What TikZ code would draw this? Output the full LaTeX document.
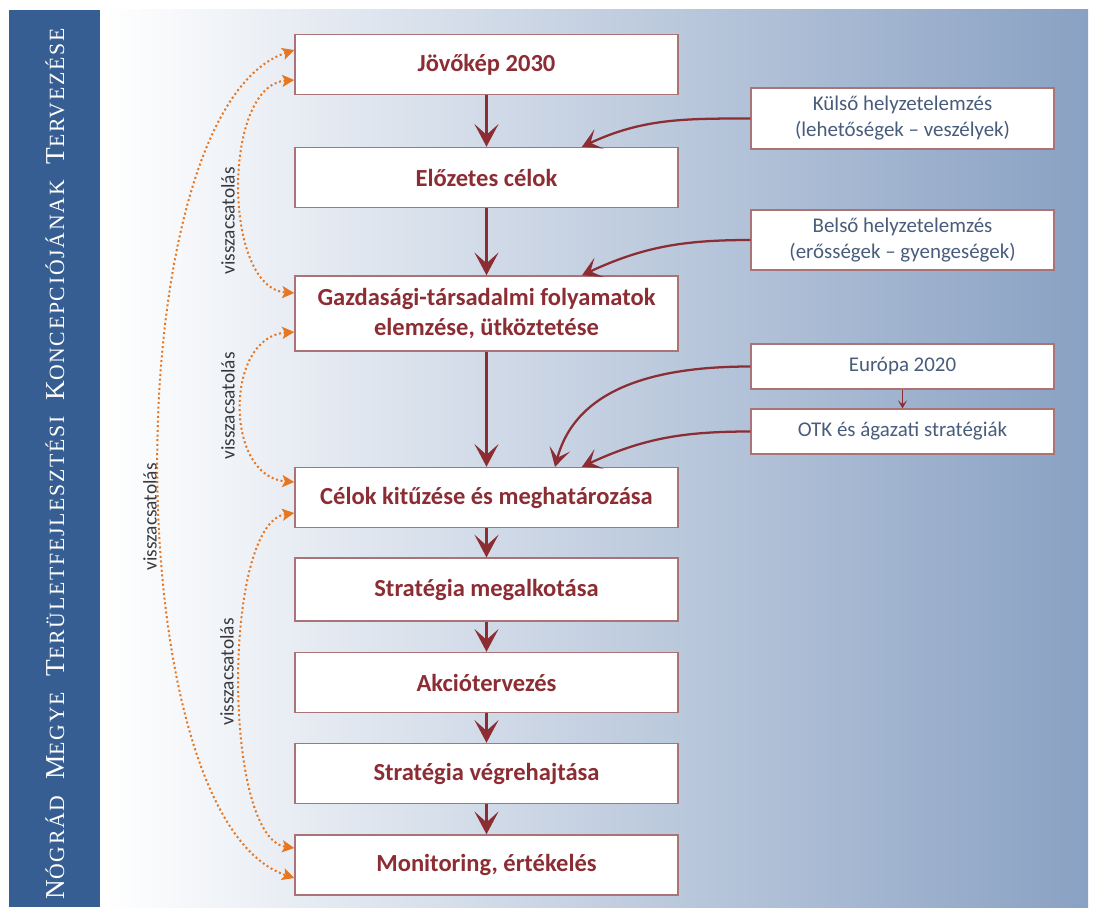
\documentclass[tikz,border=0pt]{standalone}
\usepackage{fontspec}
\setmainfont{Carlito}
\newfontfamily\bannerfont[LetterSpace=8]{Liberation Serif}
\usetikzlibrary{arrows.meta,calc}

\definecolor{bordo}{RGB}{140,45,52}
\definecolor{boxline}{RGB}{170,115,118}
\definecolor{slate}{RGB}{72,92,124}
\definecolor{fborange}{RGB}{230,118,32}
\definecolor{bannerblue}{RGB}{54,94,146}
\definecolor{panelblue}{RGB}{137,161,195}
\definecolor{labelgray}{RGB}{55,55,60}

% word in small capitals: bigger initial, smaller rest
\newcommand{\scword}[2]{{\fontsize{20.5}{21}\selectfont #1}{\fontsize{16.3}{21}\selectfont #2}}

\begin{document}
\begin{tikzpicture}[x=0.75pt,y=0.75pt,yscale=-1,xscale=1,
    mainbox/.style={draw=boxline, fill=white, line width=1.1pt, inner sep=0pt,
        minimum width=287.25pt, minimum height=45pt, align=center,
        font=\fontsize{18.4}{22.5}\selectfont\bfseries, text=bordo},
    sidebox/.style={draw=boxline, fill=white, line width=1.1pt, inner sep=0pt,
        minimum width=227.25pt, minimum height=45pt, align=center,
        font=\fontsize{15.7}{19.5}\selectfont, text=slate},
    flow/.style={draw=bordo, line width=2.4pt, -{Stealth[length=17pt,width=18pt,inset=8pt]}},
    sideflow/.style={draw=bordo, line width=1.7pt, -{Stealth[length=14pt,width=16pt,inset=7pt]}},
    feed/.style={draw=fborange, line width=1.5pt, dotted,
        {Stealth[length=9pt,width=9pt,inset=2pt]}-{Stealth[length=9pt,width=9pt,inset=2pt]}},
    fblabel/.style={rotate=90, inner sep=0pt, font=\fontsize{14.5}{14.5}\selectfont, text=labelgray}]

    % Frame and background
    \useasboundingbox (0,0) rectangle (1094,917);
    \fill[bannerblue] (9,10) rectangle (100,907);
    \shade[left color=white, right color=panelblue] (103,10) rectangle (1088,907);

    % Title
    \node [rotate=90, text=white, inner sep=0pt] (title) at (55,464)
        {\bannerfont\scword{N}{ÓGRÁD}\hspace{12pt}\scword{M}{EGYE}\hspace{12pt}\scword{T}{ERÜLETFEJLESZTÉSI}\hspace{12pt}\scword{K}{ONCEPCIÓJÁNAK}\hspace{12pt}\scword{T}{ERVEZÉSE}};

    % Main steps
    \node [mainbox] (jov)  at (486.5,64.5) {Jövőkép 2030};
    \node [mainbox] (elo)  at (486.5,177.5) {Előzetes célok};
    \node [mainbox, minimum height=56.25pt] (gaz) at (486.5,313.5) {Gazdasági-társadalmi folyamatok\\elemzése, ütköztetése};
    \node [mainbox] (cel)  at (486.5,497.5) {Célok kitűzése és meghatározása};
    \node [mainbox, minimum height=47pt] (smeg) at (486.5,589.5) {Stratégia megalkotása};
    \node [mainbox] (akc)  at (486.5,682.5) {Akciótervezés};
    \node [mainbox] (sveg) at (486.5,773.5) {Stratégia végrehajtása};
    \node [mainbox] (mon)  at (486.5,865) {Monitoring, értékelés};

    % Inputs
    \node [sidebox, minimum height=45.75pt] (kul) at (902.5,118.5) {Külső helyzetelemzés\\(lehetőségek – veszélyek)};
    \node [sidebox] (bel) at (902.5,240) {Belső helyzetelemzés\\(erősségek – gyengeségek)};
    \node [sidebox, minimum height=33.75pt] (eur) at (902.5,366.5) {Európa 2020};
    \node [sidebox, minimum height=33.75pt] (otk) at (902.5,431.5) {OTK és ágazati stratégiák};

    % Main flow
    \draw [flow] (jov)  -- (elo);
    \draw [flow] (elo)  -- (gaz);
    \draw [flow] (gaz)  -- (cel);
    \draw [flow] (cel)  -- (smeg);
    \draw [flow] (smeg) -- (akc);
    \draw [flow] (akc)  -- (sveg);
    \draw [flow] (sveg) -- (mon);

    % Input arrows
    \draw [sideflow] (kul.west) to[out=180,in=-25] ($(elo.north)+(95.5,0)$);
    \draw [sideflow] (bel.west) to[out=180,in=-25] ($(gaz.north)+(95.5,0)$);
    \draw [sideflow] (eur.west) to[out=180,in=-75] ($(cel.north)+(68.5,0)$);
    \draw [sideflow] (otk.west) to[out=180,in=-25] ($(cel.north)+(95.5,0)$);
    \draw [draw=bordo, line width=1.3pt, -{Stealth[length=6pt,width=7pt,inset=3pt]}] (eur) -- (otk);

    % Feedback loops
    \draw [feed] ($(jov.west)+(0,-14.5)$) .. controls +(-180,60) and +(-180,-60) .. ($(mon.west)+(0,13)$);
    \draw [feed] ($(jov.west)+(0,15.5)$) .. controls +(-72,5) and +(-72,-5) .. ($(gaz.west)+(0,-20.5)$);
    \draw [feed] ($(gaz.west)+(0,18.5)$) .. controls +(-70,5) and +(-70,-5) .. ($(cel.west)+(0,-15.5)$);
    \draw [feed] ($(cel.west)+(0,15.5)$) .. controls +(-72,10) and +(-72,-10) .. ($(mon.west)+(0,-17)$);

    % Labels
    \node [fblabel] (fba) at (228,221) {visszacsatolás};
    \node [fblabel] (fbb) at (228,406) {visszacsatolás};
    \node [fblabel] (fbc) at (227,672) {visszacsatolás};
    \node [fblabel] (fbd) at (150,517) {visszacsatolás};

\end{tikzpicture}
\end{document}
